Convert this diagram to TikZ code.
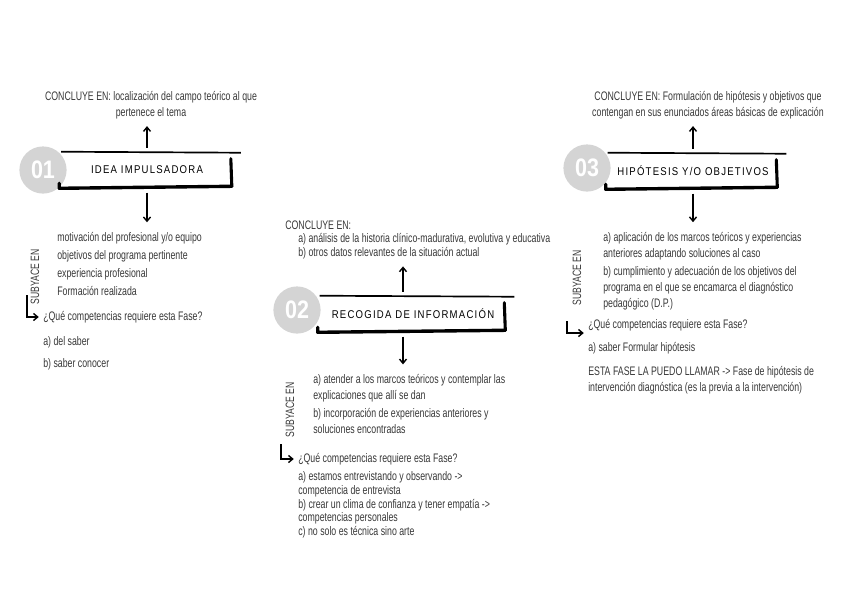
\documentclass[tikz,border=0pt]{standalone}
\usepackage{fontspec}
\setmainfont[FakeStretch=0.71]{Liberation Sans}
\newfontfamily\boxfont[LetterSpace=11,FakeStretch=0.85]{Liberation Sans}
\newfontfamily\numfont[FakeStretch=0.85]{Liberation Sans}
\usetikzlibrary{arrows.meta, positioning, calc}
\colorlet{inkgray}{black!78}
\colorlet{dotgray}{black!17}

\begin{document}
\begin{tikzpicture}[x=0.025cm, y=-0.025cm, >={Straight Barb[length=3pt,width=5pt]},
    txt/.style={anchor=west, align=left, text=inkgray, inner sep=0pt,
      font=\fontsize{8.8}{11.3}\selectfont},
    numdot/.style={circle, fill=dotgray, minimum size=1.18cm, inner sep=0pt,
      text=white, font=\numfont\bfseries\fontsize{18}{18}\selectfont},
    phase/.style={minimum height=0.9cm, inner sep=0pt, font=\boxfont\fontsize{8}{8}\selectfont},
    subl/.style={rotate=90, text=inkgray, inner sep=0pt, font=\fontsize{8.6}{9}\selectfont},
    arr/.style={->, line width=1pt}]
  \useasboundingbox (0,0) rectangle (848,600);

  % Numbers
  \node[numdot] (n1) at (43,170) {01};
  \node[numdot] (n2) at (297,310) {02};
  \node[numdot] (n3) at (587,168) {03};

  % Phase boxes
  \node[phase, minimum width=4.375cm] (b1) at (147,170) {IDEA IMPULSADORA};
  \node[phase, minimum width=4.75cm] (b2) at (413,314) {RECOGIDA DE INFORMACIÓN};
  \node[phase, minimum width=4.35cm] (b3) at (693,171) {HIPÓTESIS Y/O OBJETIVOS};
  \foreach \b in {b1,b2,b3}{
    \draw[line width=1.2pt] ($(\b.north west)+(2,0)$) -- ($(\b.north east)+(6,1)$);
    \draw[line width=2.2pt, line cap=round] ($(\b.north east)+(-4,7)$) -- ($(\b.south east)+(-3,-2)$);
    \draw[line width=2.4pt, line cap=round, line join=round]
      ($(\b.south west)+(0,-5)$) -- (\b.south west) -- ($(\b.south east)+(-3,-2)$);
  }

  % Fase 1
  \node[txt, anchor=center, align=center] (c1) at (151,105)
    {CONCLUYE EN: localización del campo teórico al que\\pertenece el tema};
  \node[txt] (l1) at (57,264) {motivación del profesional y/o equipo\\[1.5pt]
    objetivos del programa pertinente\\[1.5pt]experiencia profesional\\[1.5pt]Formación realizada};
  \node[subl] (s1) at (35,277) {SUBYACE EN};
  \coordinate (e1) at (27,295);
  \node[txt] (q1) at (43,317) {¿Qué competencias requiere esta Fase?};
  \node[txt] (a1) at (43,353) {a) del saber\\[4.5pt]b) saber conocer};
  \draw[arr, shorten <=3pt, shorten >=5pt] (b1.north) -- (b1.north |- c1.south);
  \draw[arr, shorten <=3pt, shorten >=7pt] (b1.south) -- (b1.south |- l1.north);
  \draw[arr, shorten >=3pt] (e1) |- (q1.west);

  % Fase 2
  \node[txt] (c2t) at (285,225) {CONCLUYE EN:};
  \node[txt] (c2) at (298,246) {a) análisis de la historia clínico-madurativa, evolutiva y educativa\\[-1pt]
    b) otros datos relevantes de la situación actual};
  \node[txt] (l2) at (313,404) {a) atender a los marcos teóricos y contemplar las\\explicaciones que allí se dan\\[1.5pt]
    b) incorporación de experiencias anteriores y\\soluciones encontradas};
  \node[subl] (s2) at (290,410) {SUBYACE EN};
  \coordinate (e2) at (281,444);
  \node[txt] (q2) at (298,459) {¿Qué competencias requiere esta Fase?};
  \node[txt, font=\fontsize{8.8}{9.7}\selectfont] (a2) at (298,505)
    {a) estamos entrevistando y observando ->\\competencia de entrevista\\
    b) crear un clima de confianza y tener empatía ->\\competencias personales\\
    c) no solo es técnica sino arte};
  \draw[arr, shorten <=3pt, shorten >=5pt] ([xshift=-0.25cm]b2.north) -- ([xshift=-0.25cm]b2.north |- c2.south);
  \draw[arr, shorten <=3pt, shorten >=7pt] ([xshift=-0.25cm]b2.south) -- ([xshift=-0.25cm]b2.south |- l2.north);
  \draw[arr, shorten >=3pt] (e2) |- (q2.west);

  % Fase 3
  \node[txt, anchor=center, align=center] (c3) at (708,105)
    {CONCLUYE EN: Formulación de hipótesis y objetivos que\\contengan en sus enunciados áreas básicas de explicación};
  \node[txt] (l3) at (603,271) {a) aplicación de los marcos teóricos y experiencias\\anteriores adaptando soluciones al caso\\[1.5pt]
    b) cumplimiento y adecuación de los objetivos del\\programa en el que se encamarca el diagnóstico\\pedagógico (D.P.)};
  \node[subl] (s3) at (577,278) {SUBYACE EN};
  \coordinate (e3) at (567,321);
  \node[txt] (q3) at (588,325) {¿Qué competencias requiere esta Fase?};
  \node[txt] (a3) at (588,348) {a) saber Formular hipótesis};
  \node[txt] (f3) at (588,380) {ESTA FASE LA PUEDO LLAMAR -> Fase de hipótesis de\\intervención diagnóstica (es la previa a la intervención)};
  \draw[arr, shorten <=3pt, shorten >=5pt] (b3.north) -- (b3.north |- c3.south);
  \draw[arr, shorten <=3pt, shorten >=7pt] (b3.south) -- (b3.south |- l3.north);
  \draw[arr, shorten >=3pt] (e3) |- ([yshift=-0.2cm]q3.west);
\end{tikzpicture}
\end{document}
